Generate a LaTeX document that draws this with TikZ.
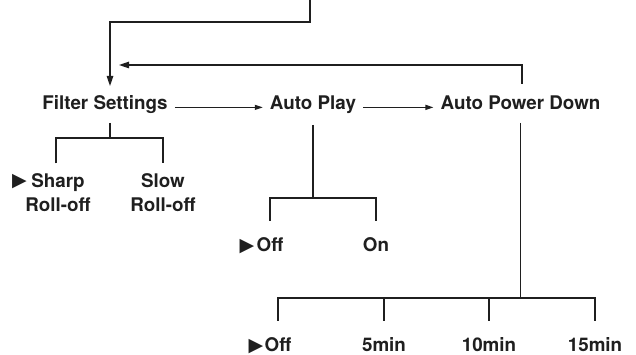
\documentclass[tikz,border=0pt]{standalone}
\usepackage{fontspec}
\setmainfont{TeX Gyre Heros}
\newfontfamily\symfont{DejaVu Sans}
\usetikzlibrary{arrows.meta, positioning}
\tikzstyle{line} = [draw, line width=1.2pt, -{Triangle[length=10pt,width=6.5pt]}]
\tikzstyle{next} = [draw, line width=1.2pt, -{Triangle[length=8pt,width=5pt]}]
\tikzstyle{link} = [draw, line width=1.2pt]
\tikzstyle{menu} = [inner ysep=0pt, inner xsep=7pt, anchor=base, font=\fontsize{18.8}{24}\selectfont\bfseries]
\tikzstyle{leaf} = [inner sep=0pt, anchor=base, text height=13.5pt, font=\fontsize{18.8}{24}\selectfont\bfseries]
\tikzstyle{twoline} = [inner sep=0pt, anchor=north, align=center, font=\fontsize{18.8}{24}\selectfont\bfseries]
\tikzstyle{pointer} = [inner sep=0pt, anchor=base east, font=\fontsize{19}{19}\selectfont\symfont]

\begin{document}
\begin{tikzpicture}[x=1pt, y=-1pt, color=black!88]
		\useasboundingbox (0,0) rectangle (636,355);
		\coordinate (in) at (310,0);
		\node[menu] (fs) at (105,110) {Filter Settings};
		\node[menu] (ap) at (313,110) {Auto Play};
		\node[menu] (apd) at (520.5,110) {Auto Power Down};
		\draw[next] (fs.mid east) -- (ap.mid west);
		\draw[next] (ap.mid east) -- (apd.mid west);
		\draw[line] (in) -- ++(0,22) -| ([xshift=5pt,yshift=24pt]fs.base);
		\draw[line] ([xshift=1.5pt,yshift=26pt]apd.base) |- ([xshift=14pt,yshift=45pt]fs.base);
		% filter settings
		\node[twoline] (sharp) at (58,173.5) {Sharp\\Roll-off};
		\node[twoline] (slow) at (163,173.5) {Slow\\Roll-off};
		\node[pointer] (fsmark) at (27,187) {▶};
		\draw[link, shorten <=13pt] ([xshift=5pt]fs.base) -- ++(0,28) coordinate (fsjoin);
		\draw[link, shorten <=10pt, shorten >=10pt] ([xshift=-2pt]sharp.north) |- (fsjoin) -| (slow.north);
		% auto play
		\node[leaf] (apoff) at (270,251) {Off};
		\node[leaf] (apon) at (376,251) {On};
		\node[pointer] (apmark) at ([xshift=-2pt]apoff.base west) {▶};
		\draw[link, shorten <=15pt] (ap.base) -- ++(0,88) coordinate (apjoin);
		\draw[link, shorten <=16.5pt, shorten >=16.5pt] (apoff.north) |- (apjoin) -| (apon.north);
		% auto power down
		\node[leaf] (apdoff) at (278,351.5) {Off};
		\node[leaf] (m5) at (384,351.5) {5min};
		\node[leaf] (m10) at (489,351.5) {10min};
		\node[leaf] (m15) at (595,351.5) {15min};
		\node[pointer] (apdmark) at ([xshift=-1pt]apdoff.base west) {▶};
		\draw[link, shorten <=13pt] (apd.base) -- ++(0,188) coordinate (apdjoin);
		\draw[link, shorten <=17pt, shorten >=17pt] (apdoff.north) |- (apdjoin) -| (m15.north);
		\draw[link, shorten <=17pt] (m5.north) -- (m5.north |- apdjoin);
		\draw[link, shorten <=17pt] (m10.north) -- (m10.north |- apdjoin);
	\end{tikzpicture}
\end{document}
